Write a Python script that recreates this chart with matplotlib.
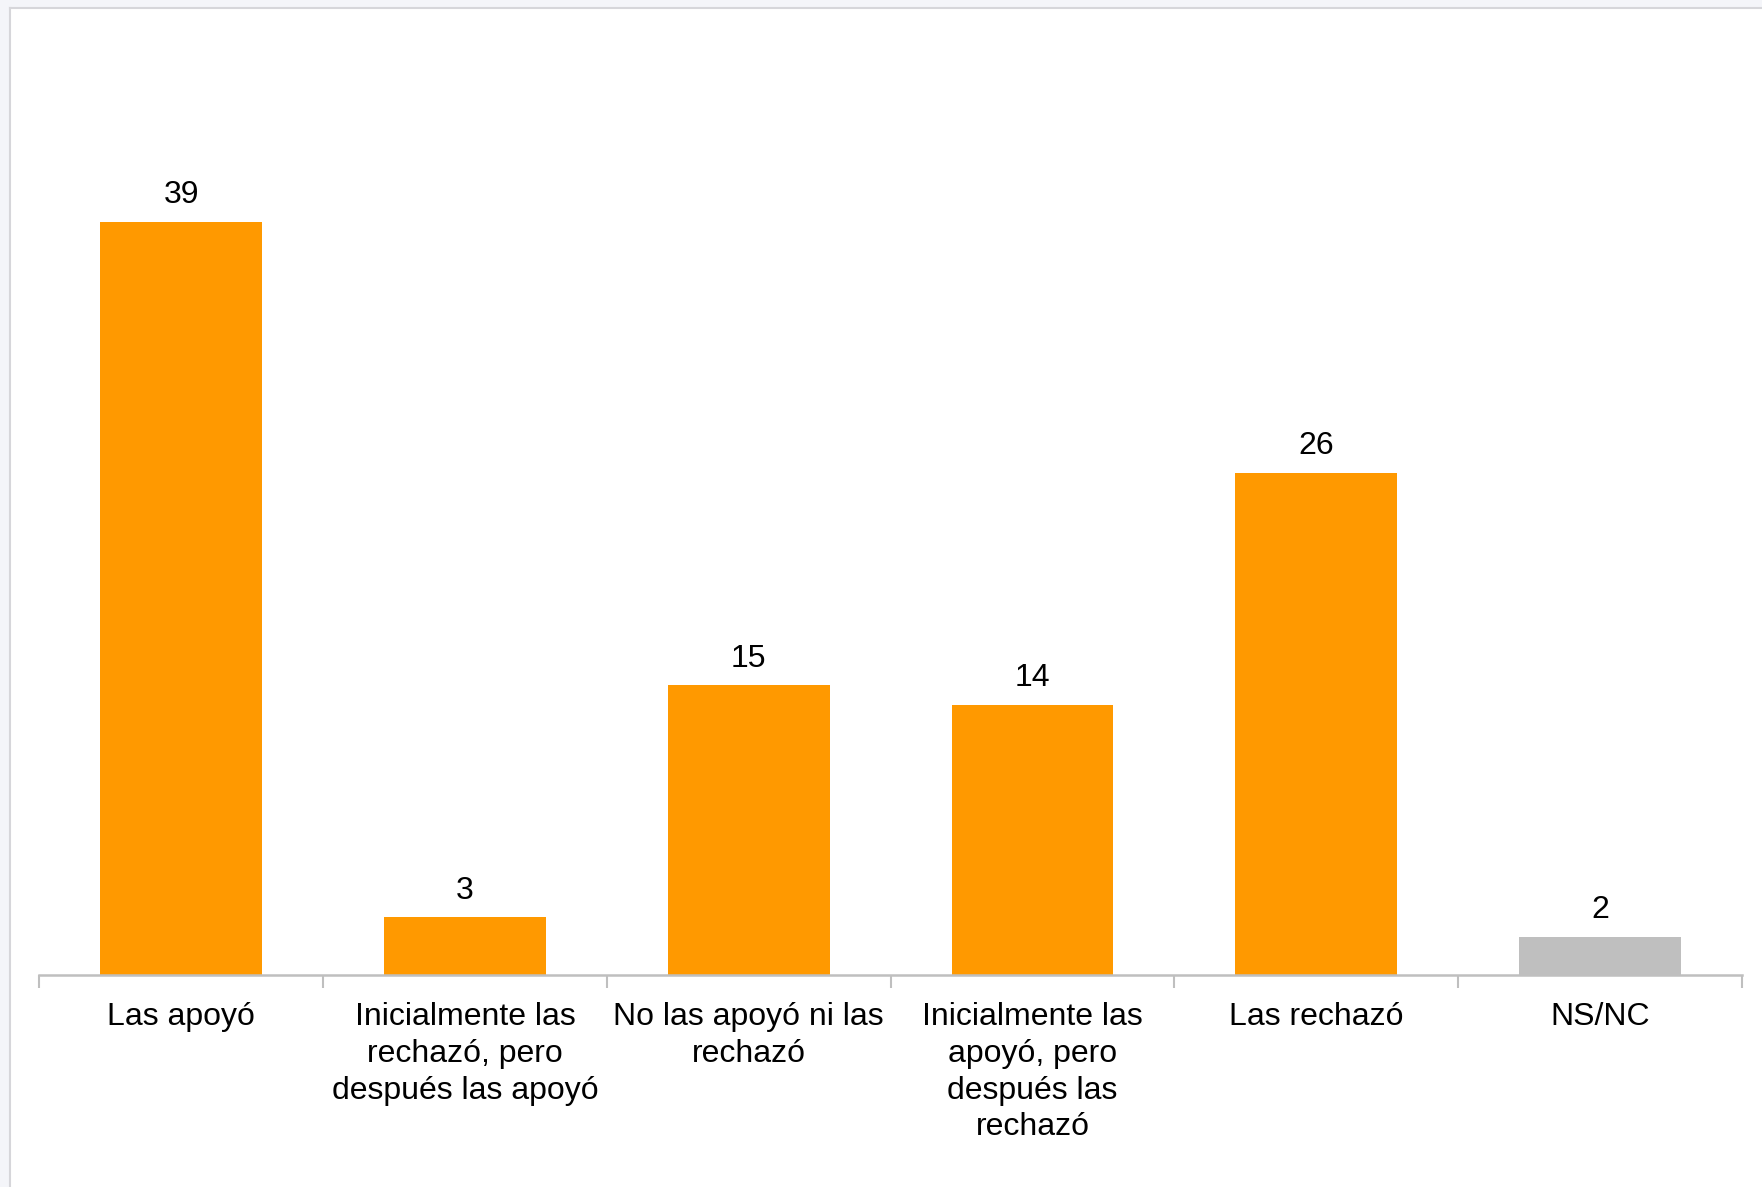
import numpy as np
import matplotlib.pyplot as plt
from matplotlib.patches import Rectangle
from matplotlib.lines import Line2D

plt.rcParams['font.family'] = ['Liberation Sans', 'DejaVu Sans']

categorias = ["Las apoyó",
              "Inicialmente las\nrechazó, pero\ndespués las apoyó",
              "No las apoyó ni las\nrechazó",
              "Inicialmente las\napoyó, pero\ndespués las\nrechazó",
              "Las rechazó",
              "NS/NC"]
valores = [39, 3, 15, 14, 26, 2]
colores = ["#FF9900", "#FF9900", "#FF9900", "#FF9900", "#FF9900", "#BFBFBF"]

W, H = 1762, 1187
fig = plt.figure(figsize=(W/100, H/100), dpi=100)
fig.patch.set_facecolor("white")

# marco gris claro arriba y a la izquierda
fig.patches.append(Rectangle((0, 1 - 8/H), 1, 8/H, transform=fig.transFigure,
                             facecolor="#F4F5F9", edgecolor="none", zorder=0))
fig.patches.append(Rectangle((0, 0), 10/W, 1, transform=fig.transFigure,
                             facecolor="#F4F5F9", edgecolor="none", zorder=0))
fig.lines.append(Line2D([10/W, 1], [1 - 8/H, 1 - 8/H], transform=fig.transFigure,
                        color="#D6D6DA", lw=1.5))
fig.lines.append(Line2D([10/W, 10/W], [0, 1 - 8/H], transform=fig.transFigure,
                        color="#D6D6DA", lw=1.5))

ax = fig.add_axes([39.3/W, 211.6/H, 1702.5/W, 869.8/H])
x = np.arange(len(valores))
barras = ax.bar(x, valores, width=0.57, color=colores, zorder=2)

for xi, v in zip(x, valores):
    ax.annotate(str(v), (xi, v), xytext=(0, 8.5), textcoords="offset points",
                ha="center", va="bottom", fontsize=23, color="black")

ax.set_xlim(-0.5, len(valores) - 0.5)
ax.set_ylim(0, 45)
ax.set_yticks([])
for s in ["top", "right", "left"]:
    ax.spines[s].set_visible(False)
ax.spines["bottom"].set_color("#BFBFBF")
ax.spines["bottom"].set_linewidth(1.8)

ax.set_xticks(x)
ax.set_xticklabels(categorias, fontsize=23, linespacing=1.3)
ax.tick_params(axis="x", which="major", length=0, pad=19)
ax.set_xticks(np.arange(-0.5, len(valores), 1), minor=True)
ax.tick_params(axis="x", which="minor", length=9, width=1.5, color="#BFBFBF")

fig.savefig("out.png", dpi=100)
